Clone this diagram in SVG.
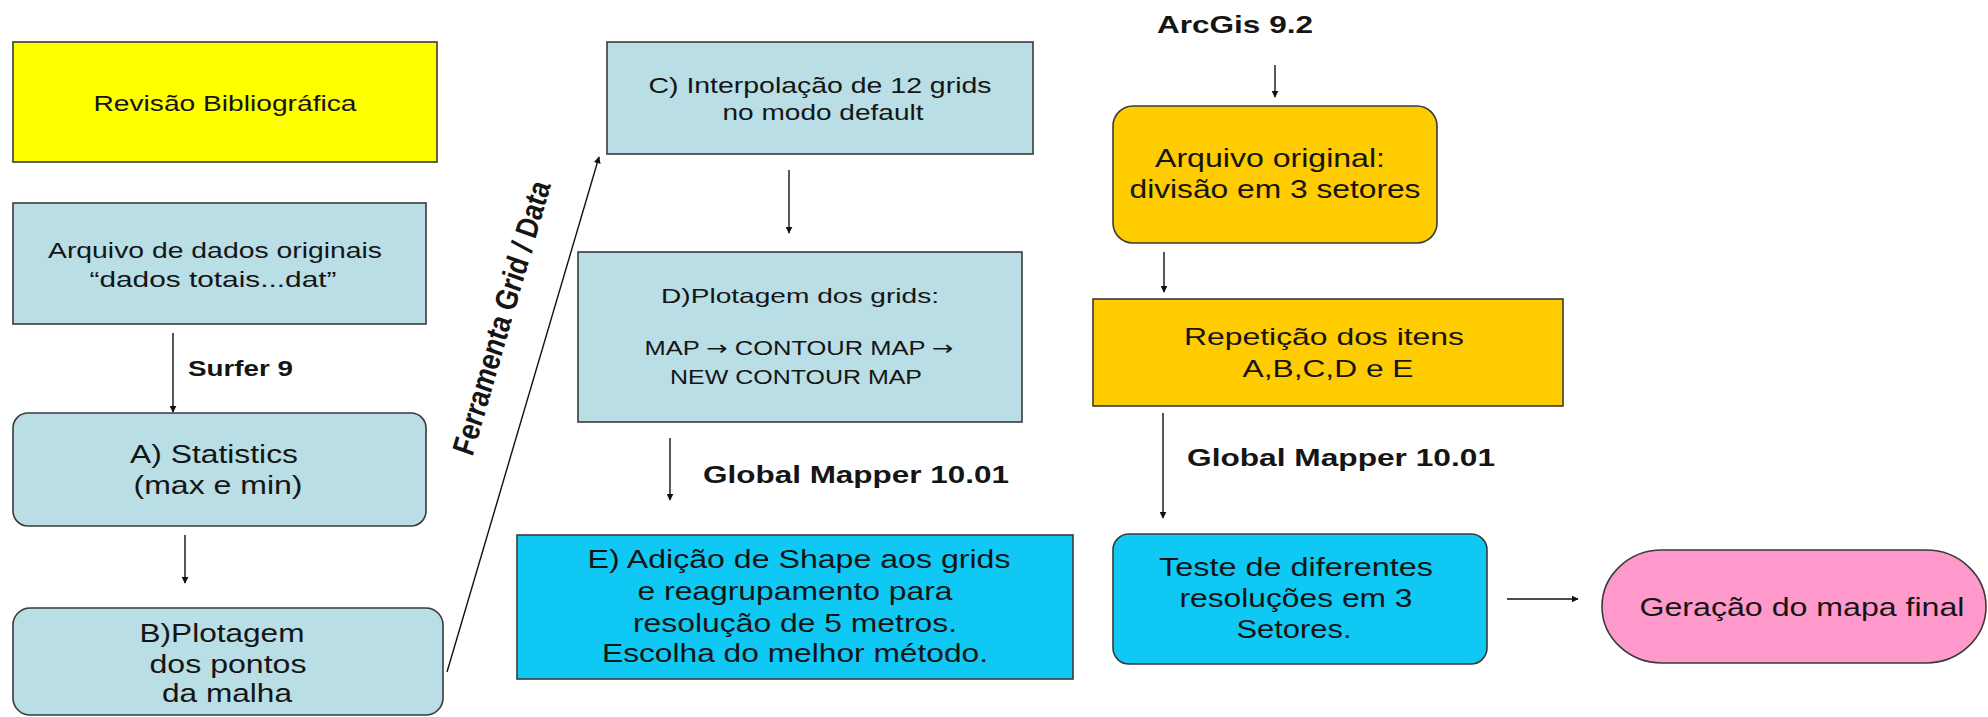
<svg xmlns="http://www.w3.org/2000/svg" width="1988" height="717" viewBox="0 0 1988 717">
<style>
text{font-family:"Liberation Sans",Arial,sans-serif;fill:#151515;text-anchor:middle}
.b{font-weight:bold;text-anchor:start}
.ar{font-family:"DejaVu Sans",sans-serif}
.box{stroke:#3a3a3a;stroke-width:1.6}
.lb{fill:#b9dee5}
.cy{fill:#0fc8f3}
.gd{fill:#ffcc00}
.c{stroke:#111;stroke-width:1.4;fill:none;marker-end:url(#ah)}
</style>
<defs>
<marker id="ah" viewBox="0 0 10 10" refX="9" refY="5" markerWidth="7" markerHeight="7" markerUnits="userSpaceOnUse" orient="auto">
<path d="M0,0 L10,5 L0,10 z" fill="#111"/>
</marker>
</defs>
<rect width="1988" height="717" fill="#fff"/>

<g id="connectors">
<line class="c" x1="173" y1="333" x2="173" y2="412"/>
<line class="c" x1="185" y1="535" x2="185" y2="583"/>
<line class="c" x1="447" y1="672" x2="599" y2="157"/>
<line class="c" x1="789" y1="170" x2="789" y2="233"/>
<line class="c" x1="670" y1="438" x2="670" y2="500"/>
<line class="c" x1="1275" y1="65" x2="1275" y2="97"/>
<line class="c" x1="1164" y1="252" x2="1164" y2="292"/>
<line class="c" x1="1163" y1="413" x2="1163" y2="518"/>
<line class="c" x1="1507" y1="599" x2="1578" y2="599"/>
<text class="b" x="188" y="376" font-size="22" textLength="105" lengthAdjust="spacingAndGlyphs">Surfer 9</text>
<text class="b" x="703" y="483" font-size="24" textLength="306" lengthAdjust="spacingAndGlyphs">Global Mapper 10.01</text>
<text class="b" x="1187" y="466" font-size="24" textLength="308" lengthAdjust="spacingAndGlyphs">Global Mapper 10.01</text>
<text class="b" x="1157" y="33" font-size="24" textLength="156" lengthAdjust="spacingAndGlyphs">ArcGis 9.2</text>
<text transform="translate(512 320) scale(1.268 1) rotate(-77.2)" x="0" y="0" font-size="25" font-weight="bold" font-style="italic" textLength="279" lengthAdjust="spacingAndGlyphs">Ferramenta Grid / Data</text>
</g>

<g id="revisao">
<rect class="box" x="13" y="42" width="424" height="120" fill="#ffff00"/>
<text x="225" y="111" font-size="22" textLength="263" lengthAdjust="spacingAndGlyphs">Revisão Bibliográfica</text>
</g>

<g id="arquivo">
<rect class="box lb" x="13" y="203" width="413" height="121"/>
<text x="215" y="258" font-size="22" textLength="334" lengthAdjust="spacingAndGlyphs">Arquivo de dados originais</text>
<text x="213" y="287" font-size="22" textLength="247" lengthAdjust="spacingAndGlyphs">“dados totais...dat”</text>
</g>

<g id="nodeA">
<rect class="box lb" x="13" y="413" width="413" height="113" rx="15"/>
<text x="214" y="463" font-size="25" textLength="168" lengthAdjust="spacingAndGlyphs">A) Statistics</text>
<text x="218" y="494" font-size="25" textLength="169" lengthAdjust="spacingAndGlyphs">(max e min)</text>
</g>

<g id="nodeB">
<rect class="box lb" x="13" y="608" width="430" height="107" rx="17"/>
<text x="222" y="642" font-size="25" textLength="165" lengthAdjust="spacingAndGlyphs">B)Plotagem</text>
<text x="228" y="673" font-size="25" textLength="157" lengthAdjust="spacingAndGlyphs">dos pontos</text>
<text x="227" y="702" font-size="25" textLength="130" lengthAdjust="spacingAndGlyphs">da malha</text>
</g>

<g id="nodeC">
<rect class="box lb" x="607" y="42" width="426" height="112"/>
<text x="820" y="93" font-size="22" textLength="343" lengthAdjust="spacingAndGlyphs">C) Interpolação de 12 grids</text>
<text x="823" y="120" font-size="22" textLength="201" lengthAdjust="spacingAndGlyphs">no modo default</text>
</g>

<g id="nodeD">
<rect class="box lb" x="578" y="252" width="444" height="170"/>
<text x="800" y="303" font-size="21" textLength="278" lengthAdjust="spacingAndGlyphs">D)Plotagem dos grids:</text>
<text x="799" y="355" font-size="20" textLength="309" lengthAdjust="spacingAndGlyphs">MAP <tspan class="ar">→</tspan> CONTOUR MAP <tspan class="ar">→</tspan></text>
<text x="796" y="384" font-size="20" textLength="252" lengthAdjust="spacingAndGlyphs">NEW CONTOUR MAP</text>
</g>

<g id="nodeE">
<rect class="box cy" x="517" y="535" width="556" height="144"/>
<text x="799" y="568" font-size="25" textLength="423" lengthAdjust="spacingAndGlyphs">E) Adição de Shape aos grids</text>
<text x="795" y="600" font-size="25" textLength="315" lengthAdjust="spacingAndGlyphs">e reagrupamento para</text>
<text x="795" y="632" font-size="25" textLength="324" lengthAdjust="spacingAndGlyphs">resolução de 5 metros.</text>
<text x="795" y="662" font-size="25" textLength="386" lengthAdjust="spacingAndGlyphs">Escolha do melhor método.</text>
</g>

<g id="arquivoOriginal">
<rect class="box gd" x="1113" y="106" width="324" height="137" rx="20"/>
<text x="1270" y="167" font-size="25" textLength="230" lengthAdjust="spacingAndGlyphs">Arquivo original:</text>
<text x="1275" y="198" font-size="25" textLength="291" lengthAdjust="spacingAndGlyphs">divisão em 3 setores</text>
</g>

<g id="repeticao">
<rect class="box gd" x="1093" y="299" width="470" height="107"/>
<text x="1324" y="345" font-size="24" textLength="280" lengthAdjust="spacingAndGlyphs">Repetição dos itens</text>
<text x="1328" y="377" font-size="24" textLength="171" lengthAdjust="spacingAndGlyphs">A,B,C,D e E</text>
</g>

<g id="teste">
<rect class="box cy" x="1113" y="534" width="374" height="130" rx="16"/>
<text x="1296" y="576" font-size="25" textLength="274" lengthAdjust="spacingAndGlyphs">Teste de diferentes</text>
<text x="1296" y="607" font-size="25" textLength="233" lengthAdjust="spacingAndGlyphs">resoluções em 3</text>
<text x="1294" y="638" font-size="25" textLength="115" lengthAdjust="spacingAndGlyphs">Setores.</text>
</g>

<g id="mapaFinal">
<rect class="box" x="1602" y="550" width="384" height="113" rx="60" ry="57" fill="#ff99cc"/>
<text x="1802" y="616" font-size="25" textLength="325" lengthAdjust="spacingAndGlyphs">Geração do mapa final</text>
</g>
</svg>
